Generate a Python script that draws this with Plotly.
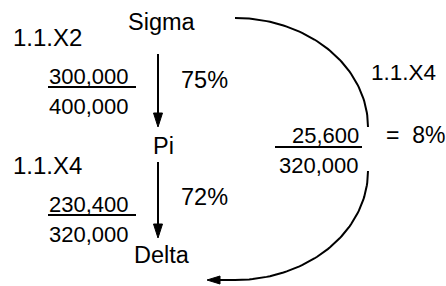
import numpy as np
import plotly.graph_objects as go

# ---- data ----
nodes = ["Sigma", "Pi", "Delta"]
step_codes = ["1.1.X2", "1.1.X4"]
step_numerators = [300000, 230400]
step_denominators = [400000, 320000]
step_percents = [75, 72]
loop_code = "1.1.X4"
loop_numerator = 25600
loop_denominator = 320000
loop_percent = 8

# ---- layout geometry (pixels, y downward) ----
W, H = 446, 286
FONT = "Liberation Sans, Arial, sans-serif"
FS = 22
node_pos = [(161.5, 22), (163.5, 146), (161.5, 255)]
step_rows = [37, 165]          # code label rows
frac_top = [76, 204]
frac_bot = [106, 234]
pct_rows = [80, 197]
arrow_x = 158
arrow_spans = [(54, 127), (162, 238)]

fig = go.Figure()
ann = []

def txt(x, y, s, anchor="left", size=FS):
    ann.append(dict(x=x, y=y, text=s, showarrow=False, xanchor=anchor, yanchor="middle",
                    font=dict(family=FONT, size=size, color="black"), xref="x", yref="y"))

def line(xs, ys, w=2):
    fig.add_trace(go.Scatter(x=xs, y=ys, mode="lines", line=dict(color="black", width=w),
                             hoverinfo="skip", showlegend=False))

shapes = []
def head(tip, direction, L=14, half=4.5):
    tx, ty = tip
    if direction == "down":
        pts = [(tx, ty), (tx - half, ty - L), (tx + half, ty - L)]
    else:  # left
        pts = [(tx, ty), (tx + L, ty - half), (tx + L, ty + half)]
    path = "M " + " L ".join(f"{px},{py}" for px, py in pts) + " Z"
    shapes.append(dict(type="path", path=path, xref="x", yref="y",
                       fillcolor="black", line=dict(color="black", width=1)))

for (x, y), name in zip(node_pos, nodes):
    txt(x, y, name, "center", 23.5)

for i in range(2):
    txt(11, step_rows[i], step_codes[i], "left", 24)
    txt(131, frac_top[i], f"{step_numerators[i]:,}", "right")
    txt(131, frac_bot[i], f"{step_denominators[i]:,}", "right")
    uy = frac_top[i] + 11
    line([48, 136], [uy, uy], 2)
    txt(179, pct_rows[i], f"{step_percents[i]}%", "left", 23.5)
    y0, y1 = arrow_spans[i]
    line([arrow_x, arrow_x], [y0, y1 - 12], 2)
    head((arrow_x, y1), "down")

# loop fraction
txt(361, 135, f"{loop_numerator:,}", "right")
txt(361, 165, f"{loop_denominator:,}", "right")
line([275, 362], [147, 147], 2)
txt(384, 135, f"=&nbsp;&nbsp;{loop_percent}%", "left", 23)
txt(369, 72, loop_code, "left", 22.5)

# loop arc
t = np.linspace(0, np.pi / 2, 60)
cx, cy1, rx, ry = 235, 127, 133, 109
line(cx + rx * np.sin(t), cy1 - ry * np.cos(t), 2)
cy2 = 171
line(np.concatenate([cx + rx * np.sin(t[::-1]), [219]]),
     np.concatenate([cy2 + ry * np.cos(t[::-1]), [cy2 + ry]]), 2)
head((207, cy2 + ry), "left", L=13, half=4)

fig.update_layout(
    width=W, height=H, margin=dict(l=0, r=0, t=0, b=0),
    paper_bgcolor="white", plot_bgcolor="white",
    xaxis=dict(range=[0, W], visible=False, fixedrange=True),
    yaxis=dict(range=[H, 0], visible=False, fixedrange=True),
    annotations=ann, shapes=shapes, showlegend=False,
)
fig.write_html("out.html", config={"staticPlot": True},
               post_script="document.body.style.margin='0';document.body.style.overflow='hidden';")
